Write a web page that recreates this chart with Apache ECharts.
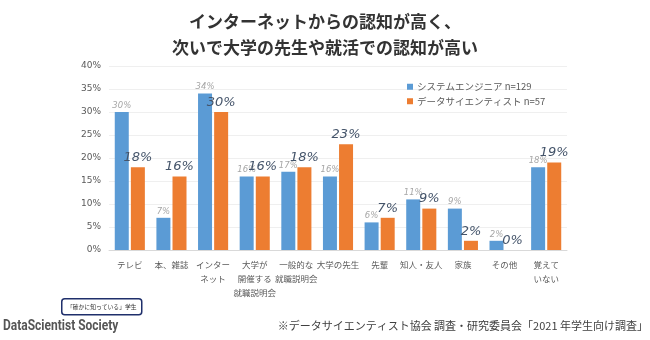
<!DOCTYPE html>
<html>
<head>
<meta charset="utf-8">
<script src="https://cdn.jsdelivr.net/npm/echarts@6/dist/echarts.min.js"></script>
<style>
  html, body { margin: 0; padding: 0; background: #ffffff; }
  #chart { width: 650px; height: 340px; }
</style>
</head>
<body>
<div id="chart"></div>
<script>
// 認知経路（カテゴリ）
const categories = [
  'テレビ', '本、雑誌', 'インター\nネット', '大学が\n開催する\n就職説明会',
  '一般的な\n就職説明会', '大学の先生', '先輩', '知人・友人', '家族', 'その他', '覚えて\nいない'
];
// 系列名
const seriesNames = ['システムエンジニア n=129', 'データサイエンティスト n=57'];
// 「確かに知っている」学生の割合（%）
const engineerValues = [30, 7, 34, 16, 17, 16, 6, 11, 9, 2, 18];
const scientistValues = [18, 16, 30, 16, 18, 23, 7, 9, 2, 0, 19];
// 縦軸目盛り
const yTicks = { min: 0, max: 40, step: 5 };

const FONT = '"Noto Sans CJK JP", "Noto Sans", sans-serif';
const chart = echarts.init(document.getElementById('chart'), null, { renderer: 'canvas' });

chart.setOption({
  backgroundColor: '#ffffff',
  animation: false,
  textStyle: { fontFamily: FONT },
  title: {
    text: 'インターネットからの認知が高く、\n次いで大学の先生や就活での認知が高い',
    left: 'center',
    top: 4,
    textStyle: {
      fontFamily: FONT,
      fontSize: 17,
      fontWeight: 'bold',
      color: '#333333',
      lineHeight: 26
    }
  },
  legend: {
    orient: 'vertical',
    left: 402,
    top: 77,
    icon: 'rect',
    itemWidth: 6,
    itemHeight: 6,
    itemGap: 5,
    textStyle: { fontFamily: FONT, fontSize: 9.5, color: '#595959', padding: [0, 0, 0, -1] },
    data: seriesNames
  },
  grid: { left: 109, right: 83, top: 66, bottom: 90, containLabel: false },
  xAxis: {
    type: 'category',
    data: categories,
    axisTick: { show: false },
    axisLine: { lineStyle: { color: '#d9d9d9' } },
    axisLabel: {
      interval: 0,
      margin: 8,
      fontFamily: FONT,
      fontSize: 8.5,
      color: '#595959',
      lineHeight: 14,
      verticalAlign: 'top'
    }
  },
  yAxis: {
    type: 'value',
    min: yTicks.min,
    max: yTicks.max,
    interval: yTicks.step,
    axisLine: { show: false },
    axisTick: { show: false },
    splitLine: { lineStyle: { color: '#efefef' } },
    axisLabel: {
      formatter: '{value}%',
      fontFamily: 'Verdana, "DejaVu Sans", sans-serif',
      fontSize: 9,
      color: '#595959',
      margin: 8
    }
  },
  series: [
    {
      name: seriesNames[0],
      type: 'bar',
      data: engineerValues,
      barWidth: 14,
      barGap: '15%',
      itemStyle: { color: '#5b9bd5' },
      label: {
        show: true,
        position: 'top',
        distance: 2,
        formatter: '{c}%',
        fontFamily: 'Verdana, "DejaVu Sans", sans-serif',
        fontStyle: 'italic',
        fontSize: 8.5,
        color: '#a6a6a6'
      }
    },
    {
      name: seriesNames[1],
      type: 'bar',
      data: scientistValues,
      barWidth: 14,
      itemStyle: { color: '#ed7d31' },
      label: {
        show: true,
        position: 'top',
        distance: 3,
        formatter: '{c}%',
        fontFamily: 'Verdana, "DejaVu Sans", sans-serif',
        fontStyle: 'italic',
        fontSize: 13,
        color: '#44546a'
      }
    }
  ],
  graphic: [
    {
      type: 'group',
      left: 61,
      top: 298,
      children: [
        {
          type: 'rect',
          shape: { x: 0, y: 0, width: 80, height: 16, r: 3 },
          style: { fill: '#ffffff', stroke: '#1f2f6b', lineWidth: 1.5 }
        },
        {
          type: 'text',
          x: 40,
          y: 8,
          style: {
            text: '「確かに知っている」学生',
            fontFamily: FONT,
            fontSize: 5.8,
            fill: '#333333',
            align: 'center',
            verticalAlign: 'middle'
          }
        }
      ]
    },
    {
      type: 'text',
      x: 3,
      y: 319,
      scaleX: 0.8,
      style: {
        text: 'DataScientist Society',
        fontFamily: 'Roboto, "DejaVu Sans", sans-serif',
        fontSize: 15,
        fontWeight: 'bold',
        fill: '#555555'
      }
    },
    {
      type: 'text',
      right: 2,
      top: 320,
      style: {
        text: '※データサイエンティスト協会 調査・研究委員会「2021 年学生向け調査」',
        fontFamily: FONT,
        fontSize: 11,
        fill: '#404040'
      }
    }
  ]
});
</script>
</body>
</html>
